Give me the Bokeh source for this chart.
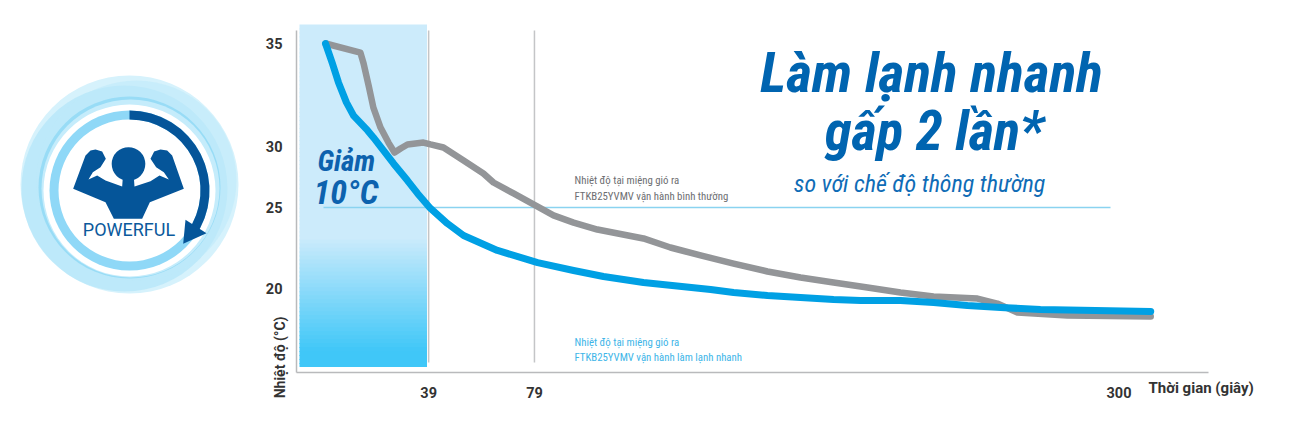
import numpy as np
from bokeh.plotting import figure
from bokeh.models import Range1d, LinearAxis, FixedTicker
from bokeh.core.properties import value
from bokeh.embed import file_html
from bokeh.resources import INLINE

# ---------- data ----------
x_ticks = [39, 79, 300]
y_ticks = [20, 25, 30, 35]
blue_t = [0, 2.6, 4.9, 7.9, 10.6, 15.9, 18.1, 25.7, 31, 34.8, 39.7, 46.1, 52.2, 65, 80.2, 93.8, 105.1, 120.2, 145.6, 154.3, 167.1, 179.6, 192.1, 202.3, 217.4, 229.9, 242.7, 255.2, 270.3, 312]
blue_v = [35, 34.03, 33.11, 32.14, 31.5, 30.78, 30.44, 28.61, 27.21, 26.15, 24.94, 24.01, 23.27, 22.35, 21.6, 21.11, 20.74, 20.37, 19.94, 19.75, 19.57, 19.44, 19.32, 19.26, 19.26, 19.14, 18.95, 18.83, 18.7, 18.58]
gray_t = [0, 13.2, 14.4, 16.3, 18.1, 20.8, 23.8, 26.1, 28.4, 31, 34, 37, 39.7, 44.6, 52.2, 59.7, 63.5, 71.1, 80.2, 86.2, 93.8, 102.8, 120.2, 130.4, 141.8, 154.3, 167.1, 179.6, 192.1, 204.9, 217.4, 229.9, 246.5, 254, 261.6, 280.5, 312]
gray_v = [35, 34.56, 34.03, 32.96, 31.89, 30.92, 30.19, 29.51, 29.84, 30.1, 30.15, 30.19, 30.1, 29.92, 28.85, 27.79, 27.05, 26.15, 25.08, 24.51, 24.07, 23.64, 23.09, 22.53, 22.04, 21.54, 21.05, 20.68, 20.37, 20.06, 19.75, 19.51, 19.38, 19.07, 18.52, 18.33, 18.27]
ref_temp = 25

# ---------- layout helpers (page pixels -> figure coordinates) ----------
W, H = 1284, 409
def PX(x): return np.asarray(x, float)
def PY(y): return H - np.asarray(y, float)
X0, XS = 325, 2.645   # page x of t=0, px per second
def T(px): return (px - X0) / XS
# printed temperature axis is not evenly spaced: piecewise scale
warp_t = [15, 20, 25, 30, 35]
warp_p = [369, 288, 207, 146, 43]
def Y(temp): return PY(np.interp(temp, warp_t, warp_p))

p = figure(width=W, height=H, output_backend="svg", toolbar_location=None,
           x_range=Range1d(T(0), T(W)), y_range=Range1d(0, H),
           x_axis_type=None, y_axis_type=None, min_border=0,
           background_fill_color="white", border_fill_color="white")
p.outline_line_color = None
p.grid.visible = False
p.extra_x_ranges = {"px": Range1d(0, W)}

# ---------- logo ----------
def Zx(x): return PX(60 + np.asarray(x, float) / 3)
def Zy(y): return PY(130 + np.asarray(y, float) / 3)
def disc(cx, cy, r, **kw):
    p.circle(x=[PX(cx)], y=[PY(cy)], radius=r, x_range_name="px", line_color=None, **kw)
NAVY = "#055599"
disc(129, 184, 109, fill_color="#D6F2FC")
disc(124, 188, 103, fill_color="#A9E1F8", fill_alpha=0.55)
disc(136, 180, 100, fill_color="#BDE9FA", fill_alpha=0.55)
disc(129, 187, 91, fill_color="#7FD3F4", fill_alpha=0.6)
disc(130, 188, 89, fill_color="#C5ECFB")
disc(129, 190, 86, fill_color="white")
disc(129, 190, 80, fill_color="#8FD8F7")
disc(129, 190, 71, fill_color="white")
p.annular_wedge(x=[PX(129)], y=[PY(190)], inner_radius=71, outer_radius=80,
                start_angle=np.pi / 2, end_angle=np.radians(-36), direction="clock",
                x_range_name="px", fill_color=NAVY, line_color=None)
p.patch(PX([182.7, 206, 185]), PY([243.3, 232.7, 219.3]), x_range_name="px", fill_color=NAVY, line_color=None)
disc(128, 163.5, 16.8, fill_color=NAVY)
bx = [38, 75, 90, 105, 125, 136, 120, 97, 84, 110, 135, 185, 187, 220, 222, 270, 297, 325, 310, 287, 270, 281, 300, 320, 335, 370, 268, 245, 160, 135]
by = [175, 75, 60, 57, 63, 85, 110, 125, 147, 135, 150, 168, 140, 140, 168, 152, 135, 147, 125, 110, 85, 63, 57, 60, 75, 175, 215, 265, 265, 215]
p.patch(Zx(bx), Zy(by), x_range_name="px", fill_color=NAVY, line_color=None)

# ---------- highlighted band (vertical gradient in thin strips) ----------
n = 86
edges = np.linspace(24, 366.5, n + 1)
c0, c1 = np.array([0xCC, 0xEB, 0xFB]), np.array([0x40, 0xC7, 0xF8])
mix = np.clip((edges[:-1] - 235) / (348 - 235), 0, 1)[:, None]
cols = ["#%02x%02x%02x" % tuple(int(round(v)) for v in row) for row in c0 * (1 - mix) + c1 * mix]
bottoms = np.minimum(edges[1:] + 1, 366.5)
p.quad(left=T(299), right=T(426.5), top=PY(edges[:-1]), bottom=PY(bottoms), fill_color=cols, line_color=None)

# ---------- reference lines ----------
p.segment(x0=x_ticks[:2], x1=x_ticks[:2], y0=PY(30), y1=PY(362), line_color="#C4C5C7", line_width=1.5)
p.segment(x0=[T(323)], x1=[T(1110)], y0=[Y(ref_temp)], y1=[Y(ref_temp)], line_color="#8AD3F0", line_width=1.4)

# ---------- curves ----------
p.line(gray_t, Y(gray_v), line_color="#939598", line_width=6.5, line_cap="round", line_join="round")
p.line(blue_t, Y(blue_v), line_color="#00A0E4", line_width=7, line_cap="round", line_join="round")

# ---------- axes ----------
xa = LinearAxis(fixed_location=float(PY(372)), bounds=(T(296), T(1208)), ticker=FixedTicker(ticks=x_ticks))
ya_pos = [float(Y(v)) for v in y_ticks]
ya = LinearAxis(fixed_location=T(296), bounds=(float(PY(372)), float(PY(30))), ticker=FixedTicker(ticks=ya_pos))
ya.major_label_overrides = {k: str(v) for k, v in zip(ya_pos, y_ticks)}
for a in (xa, ya):
    a.axis_line_color = "#B9BABC"
    a.axis_line_width = 1.5
    a.major_tick_line_color = None
    a.minor_tick_line_color = None
    a.major_label_text_font = "Roboto"
    a.major_label_text_font_style = "bold"
    a.major_label_text_font_size = "14.5px"
    a.major_label_text_color = "#333333"
xa.major_label_standoff = 8
ya.major_label_standoff = 8
p.add_layout(xa, "below")
p.add_layout(ya, "left")

# ---------- texts ----------
COND = "'Roboto Condensed', 'DejaVu Sans Condensed', Roboto"
def txt(s, x, y, size, color, font=COND, style="normal", align="left", angle=0.0):
    p.text(x=[PX(x)], y=[PY(y)], text=[s], x_range_name="px", text_font=value(font),
           text_font_style=style, text_font_size=size, text_color=color, text_align=align,
           text_baseline="middle", angle=angle)

txt("POWERFUL", 128.5, 229, "18px", "#0B5A9C", font="Roboto", align="center")
txt("Nhiệt độ (°C)", 279, 357, "14px", "#333333", font="Roboto", style="bold", align="center", angle=np.pi / 2)
txt("Thời gian (giây)", 1148, 387, "15px", "#333333", font="Roboto", style="bold")
txt("Giảm", 317, 160, "29px", "#0D62AE", style="bold italic")
txt("10°C", 313, 191, "34px", "#0D62AE", style="bold italic")
txt("Làm lạnh nhanh", 931, 72, "56px", "#0064B0", style="bold italic", align="center")
txt("gấp 2 lần*", 934, 130, "55px", "#0064B0", style="bold italic", align="center")
txt("so với chế độ thông thường", 919, 183, "24px", "#0F6CB6", style="italic", align="center")
txt("Nhiệt độ tại miệng gió ra", 574, 180, "10.8px", "#6D6E71")
txt("FTKB25YVMV vận hành bình thường", 574, 196, "10.8px", "#6D6E71")
txt("Nhiệt độ tại miệng gió ra", 574, 342, "10.8px", "#3DB5E8")
txt("FTKB25YVMV vận hành làm lạnh nhanh", 574, 357, "10.8px", "#3DB5E8")

open("out.html", "w").write(file_html(p, INLINE))
